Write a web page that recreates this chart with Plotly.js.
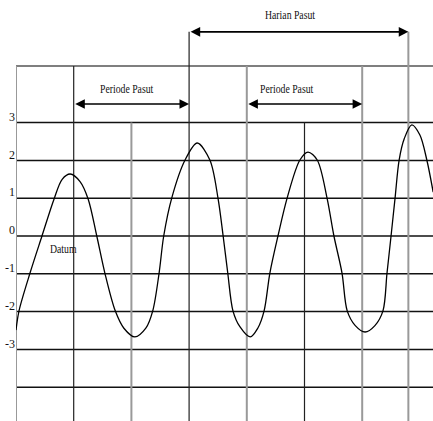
<!DOCTYPE html>
<html>
<head>
<meta charset="utf-8">
<script src="https://cdn.plot.ly/plotly-3.0.1.min.js"></script>
<style>
html,body{margin:0;padding:0;background:#fff;}
#chart{width:433px;height:421px;}
.annotation-text{transform-box:fill-box;transform-origin:center;transform:scaleX(0.75);}
</style>
</head>
<body>
<div id="chart"></div>
<script>
// Tide curve (time in grid units, water level relative to datum)
const tideTime = [0.00,0.052,0.243,0.45,0.66,0.80,0.94,1.11,1.25,1.40,1.54,1.72,1.87,2.06,2.25,2.37,2.48,2.56,2.70,2.93,3.14,3.36,3.50,3.59,3.67,3.76,3.88,4.06,4.19,4.30,4.40,4.54,4.70,4.92,5.06,5.22,5.39,5.51,5.65,5.74,5.88,6.05,6.22,6.36,6.43,6.50,6.57,6.64,6.73,6.86,7.00,7.12,7.23];
const tideLevel = [-2.49,-1.98,-0.98,0,0.98,1.50,1.64,1.44,0.98,0,-0.98,-1.98,-2.44,-2.67,-2.44,-1.98,-0.98,0,1.01,2.01,2.46,2.01,1.01,0,-0.98,-1.98,-2.40,-2.67,-2.44,-1.98,-0.98,0,1.01,2.01,2.22,2.01,1.01,0,-0.98,-1.98,-2.37,-2.54,-2.37,-1.98,-0.98,0,1.01,2.01,2.58,2.94,2.67,2.01,1.16];

// Axis labels
const yTickVals = [3,2,1,0,-1,-2,-3];
const yTickText = ['3','2','1','0','-1','-2','-3'];
const levelLines = [4.5,3,2,1,0,-1,-2,-3,-4];
const timeLines = [0,1,2,3,4,5,6,6.8];
const timeLineTops = [4.5,4.5,3,5.4,4.5,3,4.5,5.4];
const timeLineDark = [false,true,false,true,false,true,false,false];

// Annotation texts
const dailyLabel = 'Harian Pasut';
const periodLabel = 'Periode Pasut';
const datumLabel = 'Datum';

const serif = '"Liberation Serif", "Times New Roman", Times, serif';

const shapes = [];
levelLines.forEach((v, i) => {
  shapes.push({type:'line', xref:'paper', x0:0, x1:1, yref:'y', y0:v, y1:v,
    line:{color: i === 0 ? '#555' : '#111', width:1.5}, layer:'below'});
});
timeLines.forEach((t, i) => {
  shapes.push({type:'line', xref:'x', x0:t, x1:t, yref:'y', y0:-5, y1:timeLineTops[i],
    line:{color: timeLineDark[i] ? '#222' : '#999', width: timeLineDark[i] ? 1.2 : 2}, layer:'below'});
});

function arrow(x0, x1, y) {
  return {x:x1, y:y, ax:x0, ay:y, xref:'x', yref:'y', axref:'x', ayref:'y',
    text:'', showarrow:true, arrowside:'end+start', arrowhead:2, arrowsize:1.2,
    arrowwidth:1.6, arrowcolor:'#000', standoff:0, startstandoff:0};
}

const annotations = [
  arrow(3, 6.8, 5.4),
  arrow(1, 3, 3.49),
  arrow(4, 6, 3.49),
  {x:4.76, y:5.85, xref:'x', yref:'y', text:dailyLabel, showarrow:false, font:{family:serif, size:13, color:'#111'}},
  {x:1.92, y:3.89, xref:'x', yref:'y', text:periodLabel, showarrow:false, font:{family:serif, size:13, color:'#111'}},
  {x:4.70, y:3.89, xref:'x', yref:'y', text:periodLabel, showarrow:false, font:{family:serif, size:13, color:'#111'}},
  {x:0.83, y:-0.34, xref:'x', yref:'y', text:datumLabel, showarrow:false, font:{family:serif, size:13, color:'#111'}}
];

const trace = {
  x: tideTime, y: tideLevel, type:'scatter', mode:'lines',
  line:{color:'#000', width:1.3, shape:'spline', smoothing:0.9},
  hoverinfo:'skip'
};

const layout = {
  width:433, height:421,
  margin:{l:16, r:0, t:0, b:0},
  paper_bgcolor:'#fff', plot_bgcolor:'#fff',
  showlegend:false,
  xaxis:{range:[0,7.227], showgrid:false, zeroline:false, showticklabels:false, ticks:'', showline:false},
  yaxis:{range:[-4.894,6.243], showgrid:false, zeroline:false, showline:false,
    tickvals:yTickVals, ticktext:yTickText, ticks:'', ticklabelshift:-6,
    tickfont:{family:serif, size:12, color:'#111'}},
  shapes:shapes,
  annotations:annotations
};

Plotly.newPlot('chart', [trace], layout, {displayModeBar:false, staticPlot:true});
</script>
</body>
</html>
